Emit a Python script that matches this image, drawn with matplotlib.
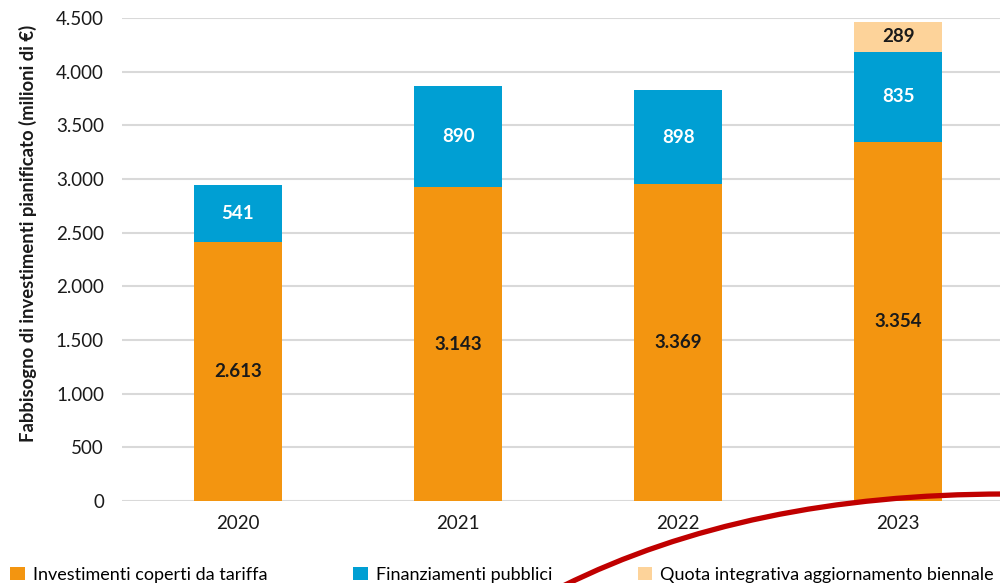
import matplotlib
matplotlib.use("Agg")
import matplotlib.pyplot as plt
import numpy as np
from matplotlib.path import Path
from matplotlib.patches import PathPatch

plt.rcParams['font.family'] = ['Lato', 'DejaVu Sans']

# data (bar heights as drawn, labels as printed)
years = ['2020', '2021', '2022', '2023']
tariffa = [2416, 2923, 2953, 3348]
pubblici = [528, 944, 876, 832]
quota = [0, 0, 0, 286]
lab_tariffa = ['2.613', '3.143', '3.369', '3.354']
lab_pubblici = ['541', '890', '898', '835']
lab_quota = ['', '', '', '289']
series_names = ['Investimenti coperti da tariffa', 'Finanziamenti pubblici',
                'Quota integrativa aggiornamento biennale']
colors = ['#F39510', '#009FD3', '#FDD39A']

W, H = 1000, 583
fig = plt.figure(figsize=(10, 5.83), dpi=100)
ax = fig.add_axes([122 / W, 1 - 501 / H, 893 / W, 483 / H])

x = np.arange(len(years))
w = 0.4
b1 = ax.bar(x, tariffa, w, color=colors[0], label=series_names[0], zorder=3)
b2 = ax.bar(x, pubblici, w, bottom=tariffa, color=colors[1], label=series_names[1], zorder=3)
bottom3 = np.array(tariffa) + np.array(pubblici)
b3 = ax.bar(x, quota, w, bottom=bottom3, color=colors[2], label=series_names[2], zorder=3)

for i in range(len(years)):
    ax.text(x[i], tariffa[i] / 2, lab_tariffa[i], ha='center', va='center',
            fontsize=13.5, fontweight='bold', color='#1a1a1a', zorder=4)
    ax.text(x[i], tariffa[i] + pubblici[i] / 2, lab_pubblici[i], ha='center', va='center',
            fontsize=13.5, fontweight='bold', color='white', zorder=4)
    if quota[i] > 0:
        ax.text(x[i], bottom3[i] + quota[i] / 2, lab_quota[i], ha='center', va='center',
                fontsize=13.5, fontweight='bold', color='#1a1a1a', zorder=4)

ax.set_xlim(-0.527, 3.53)
ax.set_ylim(0, 4500)
yt = np.arange(0, 4501, 500)
ax.set_yticks(yt)
ax.set_yticklabels([f'{v:,}'.replace(',', '.') for v in yt], fontsize=13.5, color='#1a1a1a')
ax.set_xticks(x)
ax.set_xticklabels(years, fontsize=13.5, color='#1a1a1a')
ax.tick_params(axis='both', length=0)
ax.tick_params(axis='y', pad=13)
ax.tick_params(axis='x', pad=10)
ax.grid(axis='y', color='#d9d9d9', linewidth=1.5, zorder=0)
for s in ax.spines.values():
    s.set_visible(False)
ax.set_ylabel('Fabbisogno di investimenti pianificato (milioni di €)', fontsize=13.3,
              fontweight='bold', color='#1a1a1a')
ax.yaxis.set_label_coords(-0.095, 0.554)

fig.legend(handles=[b1, b2, b3], loc='lower left', bbox_to_anchor=(0.003, -0.012),
           ncol=3, frameon=False, fontsize=13, handlelength=0.8, handleheight=0.8,
           handletextpad=0.45, columnspacing=4.75, borderaxespad=0)

# decorative red arc from the page
def fp(px, py):
    return (px / W, 1 - py / H)
verts = [fp(563, 586), fp(748, 494), fp(1005, 494)]
arc = Path(verts, [Path.MOVETO, Path.CURVE3, Path.CURVE3])
fig.add_artist(PathPatch(arc, transform=fig.transFigure, facecolor='none',
                         edgecolor='#C00000', linewidth=3.8, zorder=10))

fig.savefig('out.png', dpi=100)
